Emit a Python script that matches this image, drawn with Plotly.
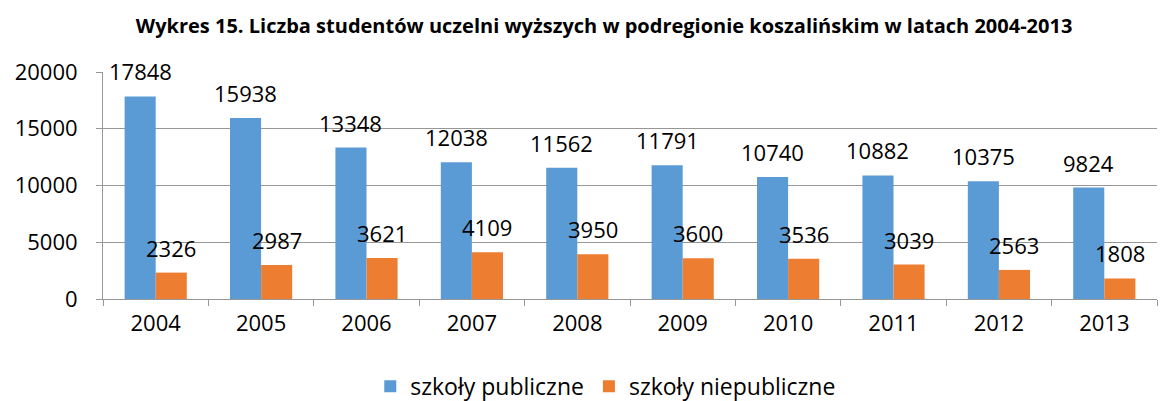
import plotly.graph_objects as go

years = ["2004", "2005", "2006", "2007", "2008", "2009", "2010", "2011", "2012", "2013"]
publiczne = [17848, 15938, 13348, 12038, 11562, 11791, 10740, 10882, 10375, 9824]
niepubliczne = [2326, 2987, 3621, 4109, 3950, 3600, 3536, 3039, 2563, 1808]
y_ticks = [0, 5000, 10000, 15000, 20000]
y_tick_text = ["0", "5000", "10000", "15000", "20000"]

FONT = "Open Sans"
BLUE = "#5B9BD5"
ORANGE = "#ED7D31"
GRID = "#979797"
BARGAP = 0.41
half = (1 - BARGAP) / 4  # offset of each bar centre from category centre

fig = go.Figure()
fig.add_trace(go.Bar(x=years, y=publiczne, name="szkoły publiczne",
                     marker=dict(color=BLUE, line=dict(width=0))))
fig.add_trace(go.Bar(x=years, y=niepubliczne, name="szkoły niepubliczne",
                     marker=dict(color=ORANGE, line=dict(width=0))))

# value labels above the bars
for i, (a, b) in enumerate(zip(publiczne, niepubliczne)):
    for val, dx in ((a, -half), (b, half)):
        fig.add_annotation(x=i + dx, y=val, xref="x", yref="y", text=str(val),
                           showarrow=False, yanchor="middle", yshift=25,
                           font=dict(family=FONT, size=22, color="#000000"))

fig.update_layout(
    width=1173, height=401,
    margin=dict(l=103, r=16, t=72, b=102, autoexpand=False),
    paper_bgcolor="white", plot_bgcolor="white",
    barmode="group", bargap=BARGAP, bargroupgap=0,
    title=dict(text="<b>Wykres 15. Liczba studentów uczelni wyższych w podregionie koszalińskim w latach 2004-2013</b>",
               x=0.515, xanchor="center", y=0.935, yanchor="middle",
               font=dict(family=FONT, size=20, color="#000000")),
    legend=dict(orientation="h", x=0.477, xanchor="center", y=-0.385, yanchor="middle",
                font=dict(family=FONT, size=23, color="#000000"),
                itemwidth=30, traceorder="normal"),
    showlegend=True,
)
fig.update_xaxes(type="category", showline=True, linecolor=GRID, linewidth=1,
                 ticks="outside", tickson="boundaries", ticklen=6, tickcolor=GRID,
                 tickfont=dict(family=FONT, size=22, color="#000000"),
                 ticklabelstandoff=5, showgrid=False)
fig.update_yaxes(range=[0, 20000], tickvals=y_ticks, ticktext=y_tick_text,
                 showline=True, linecolor=GRID,
                 linewidth=1, ticks="outside", ticklen=6, tickcolor=GRID,
                 showgrid=True, gridcolor=GRID, gridwidth=1, zeroline=False,
                 tickfont=dict(family=FONT, size=22, color="#000000"),
                 ticklabelstandoff=14)
fig.write_html("out.html")
